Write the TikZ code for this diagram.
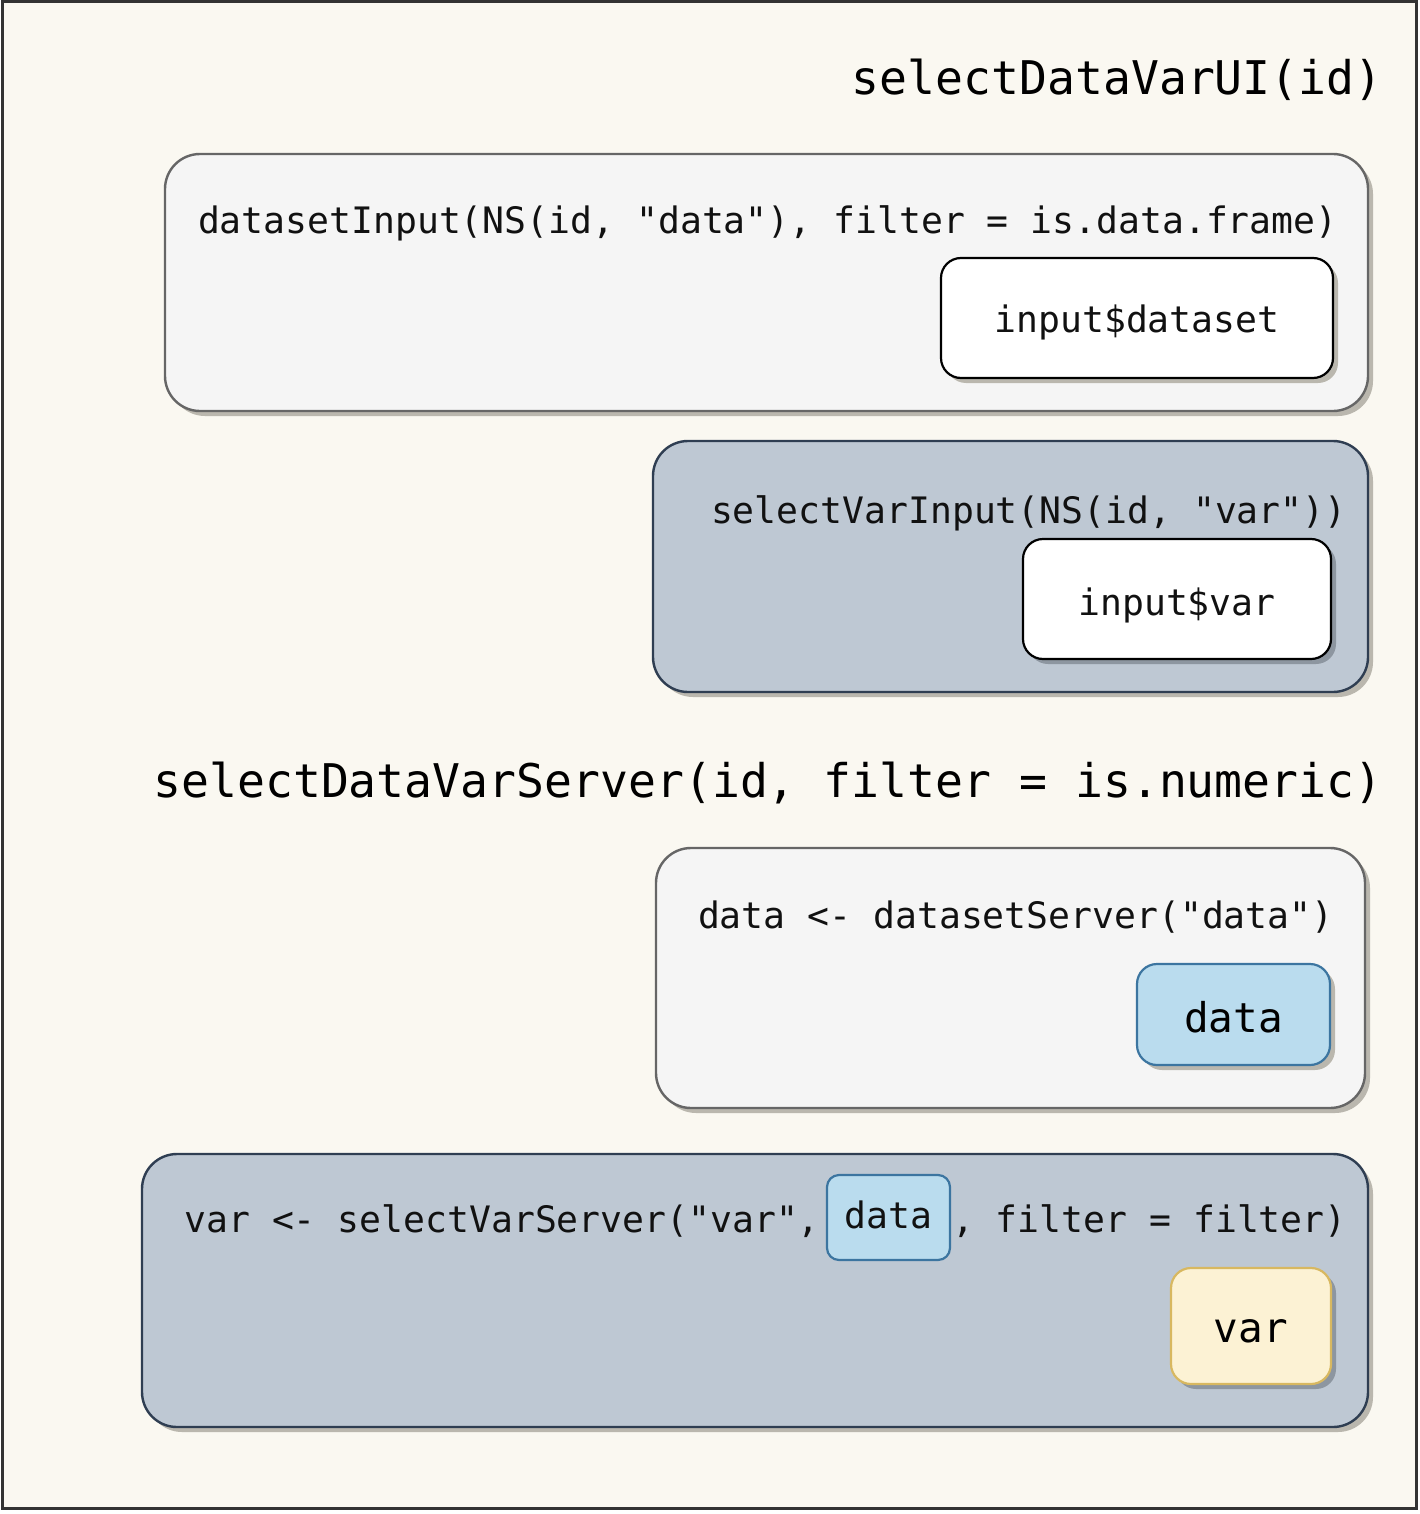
\documentclass[tikz,border=0pt]{standalone}
\usepackage{fontspec}
\setmonofont{DejaVu Sans Mono}
\usetikzlibrary{shadows}
\definecolor{bgc}{HTML}{FAF8F1}
\definecolor{lightfill}{HTML}{F5F5F5}
\definecolor{lightdraw}{HTML}{666666}
\definecolor{bluefill}{HTML}{BEC8D3}
\definecolor{bluedraw}{HTML}{2F3E52}
\definecolor{shlight}{HTML}{BAB7AE}
\definecolor{shblue}{HTML}{8D96A0}
\definecolor{datafill}{HTML}{BADCEE}
\definecolor{datadraw}{HTML}{3C75A0}
\definecolor{varfill}{HTML}{FCF2D4}
\definecolor{vardraw}{HTML}{D8B860}
\definecolor{txt}{HTML}{111111}
\tikzset{
  panel/.style={rectangle, rounded corners=17.5pt, line width=1.2pt, inner sep=0pt},
  lightpanel/.style={panel, fill=lightfill, draw=lightdraw,
     drop shadow={shadow xshift=2.5pt, shadow yshift=-2.5pt, fill=shlight, opacity=1}},
  bluepanel/.style={panel, fill=bluefill, draw=bluedraw,
     drop shadow={shadow xshift=2.5pt, shadow yshift=-2.5pt, fill=shlight, opacity=1}},
  chip/.style={rectangle, rounded corners=10pt, line width=1.1pt, inner sep=0pt},
  whitechip/.style={chip, fill=white, draw=black,
     drop shadow={shadow xshift=2.5pt, shadow yshift=-2.5pt, fill=#1, opacity=1}},
  datachip/.style={chip, fill=datafill, draw=datadraw,
     drop shadow={shadow xshift=2.5pt, shadow yshift=-2.5pt, fill=#1, opacity=1}},
  varchip/.style={chip, fill=varfill, draw=vardraw,
     drop shadow={shadow xshift=2.5pt, shadow yshift=-2.5pt, fill=shblue, opacity=1}},
  titletext/.style={inner sep=0pt, text=black, font=\ttfamily\fontsize{23.2}{27}\selectfont},
  codetext/.style={inner sep=0pt, text=txt, font=\ttfamily\fontsize{18.2}{22}\selectfont},
  labeltext/.style={inner sep=0pt, text=black, font=\ttfamily\fontsize{20.5}{24}\selectfont},
}
\begin{document}
\begin{tikzpicture}[x=0.5pt, y=-0.5pt]
\useasboundingbox (0,0) rectangle (1419,1514);
\node[draw=black!80, line width=1.5pt, fill=bgc, minimum width=707pt, minimum height=753pt, inner sep=0pt] (frame) at (709,755) {};

% UI part
\node[titletext, anchor=base east] (uititle) at (1383,95) {selectDataVarUI(id)};

\node[lightpanel, minimum width=601.5pt, minimum height=128.5pt] (box1) at (766.5,282.5) {};
\node[codetext, anchor=base east] (code1) at (1338,234) {datasetInput(NS(id, "data"), filter = is.data.frame)};
\node[whitechip=shlight, minimum width=196pt, minimum height=60pt] (dsbox) at (1137,318) {};
\node[codetext, anchor=base] (dslabel) at (1137,332) {input\$dataset};

\node[bluepanel, minimum width=357.5pt, minimum height=125.5pt] (box2) at (1010.5,566.5) {};
\node[codetext, anchor=base east] (code2) at (1347,523) {selectVarInput(NS(id, "var"))};
\node[whitechip=shblue, minimum width=154pt, minimum height=60pt] (ivbox) at (1177,599) {};
\node[codetext, anchor=base] (ivlabel) at (1177,615) {input\$var};

% Server part
\node[titletext, anchor=base east] (srvtitle) at (1383,797) {selectDataVarServer(id, filter = is.numeric)};

\node[lightpanel, minimum width=354.5pt, minimum height=130pt] (box3) at (1010.5,978) {};
\node[codetext, anchor=base east] (code3) at (1334,928) {data <- datasetServer("data")};
\node[datachip=shlight, minimum width=96.5pt, minimum height=50.5pt] (databox) at (1233.5,1014.5) {};
\node[labeltext, anchor=base] (datalabel) at (1233.5,1032) {data};

\node[bluepanel, minimum width=613pt, minimum height=136.5pt] (box4) at (755,1290.5) {};
\node[codetext, anchor=base west] (code4a) at (184,1232) {var <- selectVarServer("var",};
\node[chip, fill=datafill, draw=datadraw, rounded corners=6pt, minimum width=61.5pt, minimum height=42.5pt] (inlinedata) at (888.5,1217.5) {};
\node[codetext, anchor=base] (inlinelabel) at (888.5,1228) {data};
\node[codetext, anchor=base east] (code4b) at (1347,1232) {, filter = filter)};
\node[varchip, minimum width=80pt, minimum height=58pt] (varbox) at (1251,1326) {};
\node[labeltext, anchor=base] (varlabel) at (1251,1342) {var};
\end{tikzpicture}
\end{document}
